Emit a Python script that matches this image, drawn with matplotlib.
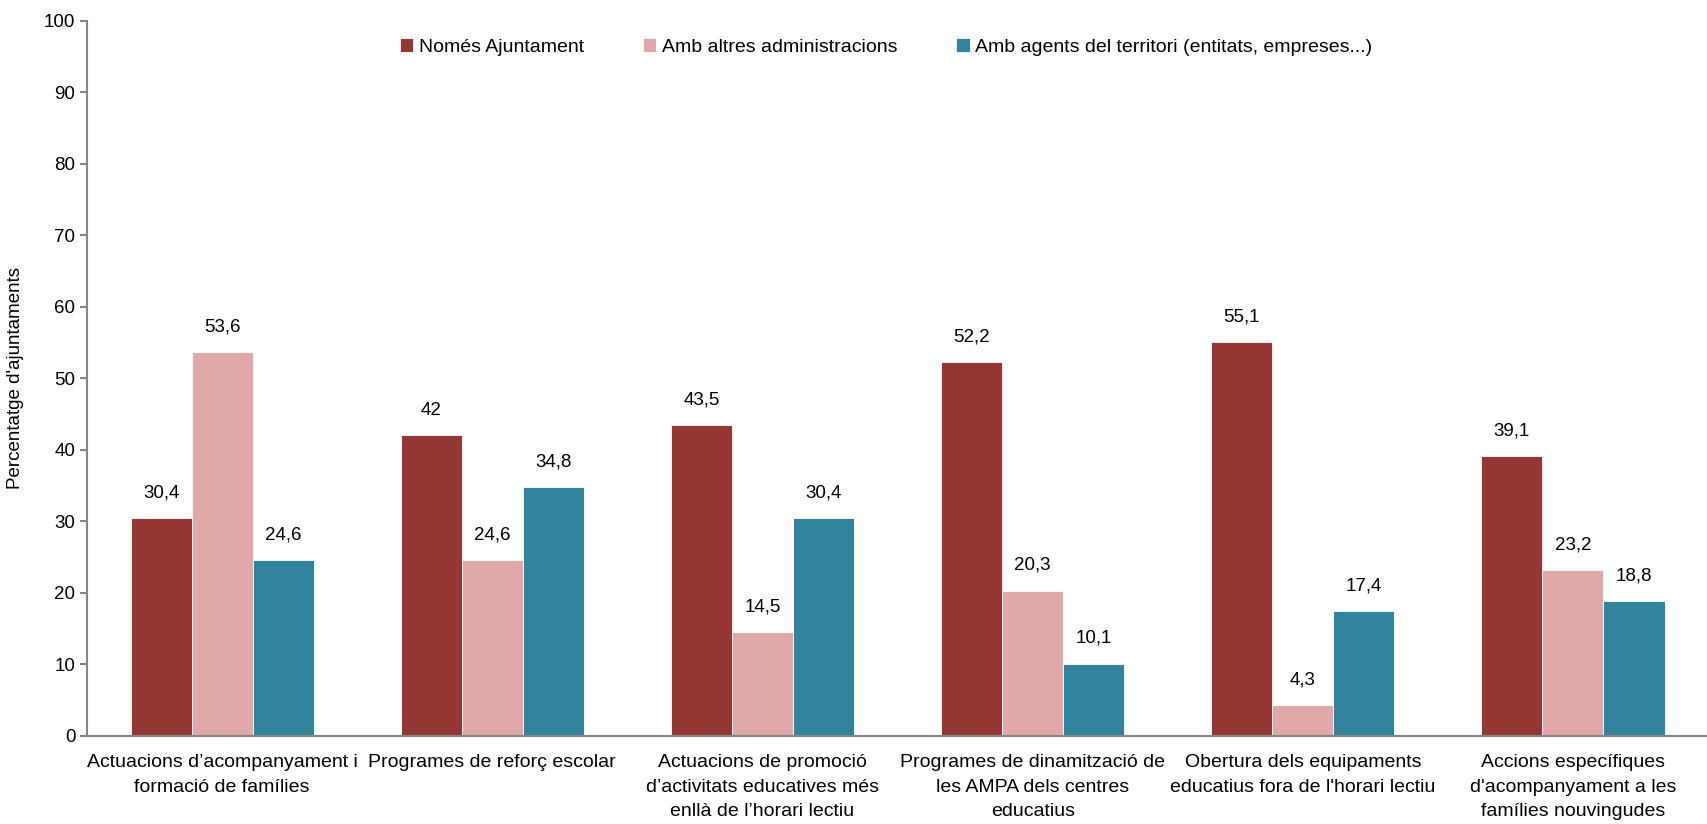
import matplotlib
matplotlib.use('Agg')
from matplotlib import pyplot as plt
import numpy as np

categories = [
    "Actuacions d\u2019acompanyament i\nformació de famílies",
    "Programes de reforç escolar",
    "Actuacions de promoció\nd\u2019activitats educatives més\nenllà de l\u2019horari lectiu",
    "Programes de dinamització de\nles AMPA dels centres\neducatius",
    "Obertura dels equipaments\neducatius fora de l'horari lectiu",
    "Accions específiques\nd'acompanyament a les\nfamílies nouvingudes",
]
series_names = ["Només Ajuntament", "Amb altres administracions",
                "Amb agents del territori (entitats, empreses...)"]
nomes_ajuntament = [30.4, 42.0, 43.5, 52.2, 55.1, 39.1]
altres_admin = [53.6, 24.6, 14.5, 20.3, 4.3, 23.2]
agents_territori = [24.6, 34.8, 30.4, 10.1, 17.4, 18.8]
colors = ['#943634', '#E0A8A8', '#31849B']

plt.rcParams['font.family'] = ['Liberation Sans', 'DejaVu Sans']

fig = plt.figure(figsize=(17.08, 8.24), dpi=100)
ax = fig.add_axes([0.051, 0.107, 0.949, 0.868])

x = np.arange(len(categories))
w = 0.226
data = [nomes_ajuntament, altres_admin, agents_territori]
for i, (vals, name, c) in enumerate(zip(data, series_names, colors)):
    bars = ax.bar(x + (i - 1) * w, vals, w, color=c, label=name,
                  edgecolor='white', linewidth=0.6)
    for b, v in zip(bars, vals):
        txt = ('%g' % v).replace('.', ',')
        ax.annotate(txt, (b.get_x() + b.get_width() / 2, v), xytext=(0, 12),
                    textcoords='offset points', ha='center', va='bottom', fontsize=13.5)

ax.set_xlim(-0.5, 5.5)
ax.set_ylim(0, 100)
ax.set_yticks(range(0, 101, 10))
ax.set_xticks(x)
ax.set_xticklabels(categories, fontsize=14, va='top', linespacing=1.6)
ax.tick_params(axis='x', length=0, pad=13)
ax.tick_params(axis='y', labelsize=13.5, color='#868686', length=5, width=1.5)
for s in ['top', 'right']:
    ax.spines[s].set_visible(False)
for s in ['left', 'bottom']:
    ax.spines[s].set_color('#868686')
    ax.spines[s].set_linewidth(1.5)
ax.set_ylabel("Percentatge d'ajuntaments", fontsize=13.5, labelpad=14)

ax.legend(loc='upper center', bbox_to_anchor=(0.493, 1.0), ncol=3, frameon=False,
          fontsize=14, handlelength=0.7, handleheight=0.7, handletextpad=0.3,
          columnspacing=3.0)

plt.savefig('out.png', dpi=100)
